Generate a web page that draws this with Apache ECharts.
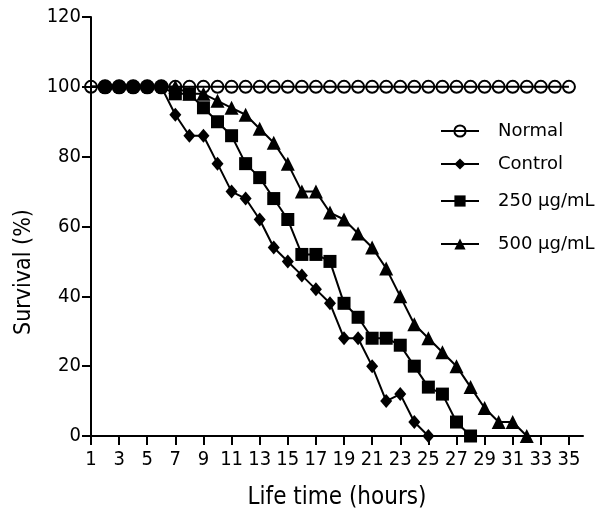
<!DOCTYPE html>
<html>
<head>
<meta charset="utf-8">
<script src="https://cdn.jsdelivr.net/npm/echarts@6/dist/echarts.min.js"></script>
<style>html,body{margin:0;padding:0;background:#fff}#c{width:615px;height:515px}</style>
</head>
<body>
<div id="c"></div>
<script>
const hours = [1,2,3,4,5,6,7,8,9,10,11,12,13,14,15,16,17,18,19,20,21,22,23,24,25,26,27,28,29,30,31,32,33,34,35];
const xTicks = [1,3,5,7,9,11,13,15,17,19,21,23,25,27,29,31,33,35];
const normalValues = [100,100,100,100,100,100,100,100,100,100,100,100,100,100,100,100,100,100,100,100,100,100,100,100,100,100,100,100,100,100,100,100,100,100,100];
const controlValues = [100,100,100,100,100,100,92,86,86,78,70,68,62,54,50,46,42,38,28,28,20,10,12,4,0];
const dose250Values = [100,100,100,100,100,100,98,98,94,90,86,78,74,68,62,52,52,50,38,34,28,28,26,20,14,12,4,0];
const dose500Values = [100,100,100,100,100,100,100,98,98,96,94,92,88,84,78,70,70,64,62,58,54,48,40,32,28,24,20,14,8,4,4,0];
const seriesNames = ['Normal','Control','250 μg/mL','500 μg/mL'];

const FONT = 'DejaVu Sans';
const COND = '"DejaVu Sans Condensed", "DejaVu Sans"';
const chart = echarts.init(document.getElementById('c'), null, {renderer:'canvas'});

function pts(values, earlyStyle) {
  return values.map((v, i) => {
    const h = hours[i];
    if (earlyStyle && h <= 6) {
      if (earlyStyle === 'circle' && h > 1) return {value:[h, v], symbol:'circle', symbolSize:15};
      return {value:[h, v], symbol:'none'};
    }
    return [h, v];
  });
}

const lineStyle = {color:'#000', width:2};
function legend(name, top) {
  return {
    data:[name], orient:'vertical', left:440, top:top, padding:0,
    itemWidth:38, itemHeight:14,
    textStyle:{fontFamily:FONT, fontSize:18, color:'#000', padding:[0,0,0,14]},
    selectedMode:false
  };
}

chart.setOption({
  animation:false,
  backgroundColor:'#fff',
  grid:{left:91, right:32, top:17, bottom:79, containLabel:false},
  legend:[legend(seriesNames[0], 122), legend(seriesNames[1], 155), legend(seriesNames[2], 192), legend(seriesNames[3], 235)],
  xAxis:{
    type:'value', min:1, max:36, interval:2,
    name:'Life time (hours)', nameLocation:'middle', nameGap:50,
    nameTextStyle:{fontFamily:COND, fontSize:24, color:'#000'},
    axisLine:{lineStyle:{color:'#000', width:2}},
    axisTick:{show:true, length:9, lineStyle:{color:'#000', width:2}, customValues:xTicks},
    axisLabel:{fontFamily:COND, fontSize:20, color:'#000', margin:14, customValues:xTicks},
    splitLine:{show:false}
  },
  yAxis:{
    type:'value', min:0, max:120, interval:20,
    axisLine:{show:true, lineStyle:{color:'#000', width:2}},
    axisTick:{show:true, length:9, lineStyle:{color:'#000', width:2}},
    axisLabel:{fontFamily:COND, fontSize:20, color:'#000', margin:10},
    splitLine:{show:false}
  },
  graphic:[{
    type:'text', x:24, y:272, rotation:Math.PI/2,
    style:{text:'Survival (%)', fontFamily:COND, fontSize:23, fill:'#000', textAlign:'center', textVerticalAlign:'middle'}
  }],
  series:[
    {name:seriesNames[0], type:'line', data:pts(normalValues), symbol:'circle', symbolSize:12,
     lineStyle:lineStyle, itemStyle:{color:'rgba(255,255,255,0)', borderColor:'#000', borderWidth:2}, z:2},
    {name:seriesNames[1], type:'line', data:pts(controlValues,'circle'), symbol:'diamond', symbolSize:[12,14],
     lineStyle:lineStyle, itemStyle:{color:'#000'}, z:3},
    {name:seriesNames[2], type:'line', data:pts(dose250Values,'none'), symbol:'rect', symbolSize:13,
     lineStyle:lineStyle, itemStyle:{color:'#000'}, z:3},
    {name:seriesNames[3], type:'line', data:pts(dose500Values,'none'), symbol:'triangle', symbolSize:14,
     lineStyle:lineStyle, itemStyle:{color:'#000'}, z:3}
  ]
});
</script>
</body>
</html>
